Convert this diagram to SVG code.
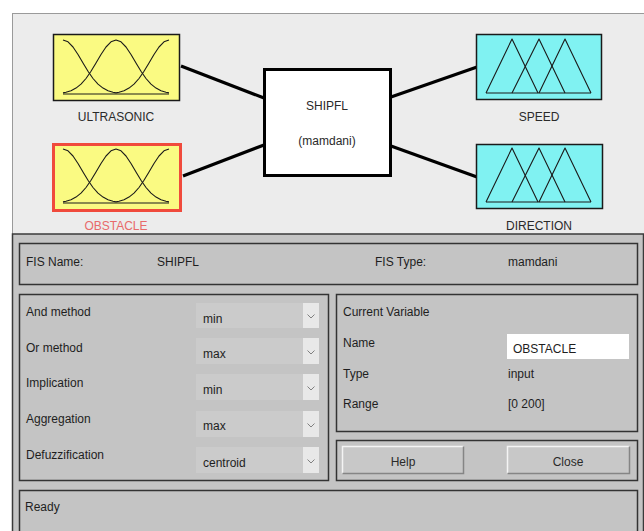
<svg xmlns="http://www.w3.org/2000/svg" width="644" height="531" viewBox="0 0 644 531">
<defs>
<style>
text{font-family:"Liberation Sans",Arial,sans-serif;font-size:12px;fill:#1e1e1e}
.lbl{fill:#2a2a2a;text-anchor:middle}
.mf{fill:none;stroke:#1a1a1a;stroke-width:1.1;stroke-linejoin:round}
.panel{fill:#c4c4c4;stroke:#333;stroke-width:1.5}
.dd{fill:#cbcbcb}
.chev{fill:#e8e8e8}
.chv{fill:none;stroke:#808080;stroke-width:1}
.conn{stroke:#000;stroke-width:3.2;fill:none}
</style>
<g id="gauss">
<polyline class="mf" points="0,-54 5,-52.2 10,-47 15,-39.5 20,-31 25,-22.7 30,-15.5 35,-9.9 40,-5.9 45,-3.3 50,-1.7 53,-1.1"/>
<polyline class="mf" points="0,-1.1 3,-1.7 8,-3.3 13,-5.9 18,-9.9 23,-15.5 28,-22.7 33,-31 38,-39.5 43,-47 48,-52.2 53,-54 58,-52.2 63,-47 68,-39.5 73,-31 78,-22.7 83,-15.5 88,-9.9 93,-5.9 98,-3.3 103,-1.7 106,-1.1"/>
<polyline class="mf" points="53,-1.1 56,-1.7 61,-3.3 66,-5.9 71,-9.9 76,-15.5 81,-22.7 86,-31 91,-39.5 96,-47 101,-52.2 106,-54"/>
<line class="mf" x1="0" y1="0" x2="106" y2="0"/>
</g>
<g id="tri">
<polyline class="mf" points="0,0 26,-54 52,0"/>
<polyline class="mf" points="26,0 53,-54 79,0"/>
<polyline class="mf" points="53,0 79,-54 105,0"/>
<line class="mf" x1="0" y1="0" x2="105" y2="0"/>
</g>
<g id="chevron"><polyline class="chv" points="-3.5,-1.5 0,2 3.5,-1.5"/></g>
</defs>

<rect x="0" y="0" width="644" height="531" fill="#ffffff"/>
<rect x="12.5" y="13.5" width="632" height="221" fill="#ececec" stroke="#9a9a9a" stroke-width="1"/>
<rect x="12.5" y="234" width="631" height="300" fill="#c4c4c4" stroke="#3a3a3a" stroke-width="1.5"/>

<g id="connectors">
<line class="conn" x1="181" y1="66" x2="264" y2="98"/>
<line class="conn" x1="183" y1="176" x2="264" y2="145"/>
<line class="conn" x1="391" y1="97" x2="477" y2="67"/>
<line class="conn" x1="391" y1="146" x2="477" y2="177"/>
</g>

<g id="node-ultrasonic">
<rect x="53.5" y="34.5" width="126" height="66" fill="#fafa82" stroke="#1a1a1a" stroke-width="1.5"/>
<use href="#gauss" transform="translate(63,94)"/>
<text class="lbl" x="116" y="121">ULTRASONIC</text>
</g>

<g id="node-obstacle">
<rect x="53.5" y="144.5" width="127" height="66" fill="#fafa82" stroke="#f04a3c" stroke-width="3"/>
<use href="#gauss" transform="translate(63,203)"/>
<text class="lbl" x="116" y="230" style="fill:#e86a6a">OBSTACLE</text>
</g>

<g id="node-shipfl">
<rect x="264.5" y="69.5" width="126" height="106" fill="#ffffff" stroke="#000" stroke-width="3"/>
<text class="lbl" x="327" y="110">SHIPFL</text>
<text class="lbl" x="327" y="145">(mamdani)</text>
</g>

<g id="node-speed">
<rect x="476.5" y="34.5" width="125" height="65" fill="#80f2f2" stroke="#1a1a1a" stroke-width="1.5"/>
<use href="#tri" transform="translate(486,93)"/>
<text class="lbl" x="539" y="121">SPEED</text>
</g>

<g id="node-direction">
<rect x="476.5" y="144.5" width="126" height="64" fill="#80f2f2" stroke="#1a1a1a" stroke-width="1.5"/>
<use href="#tri" transform="translate(486,202)"/>
<text class="lbl" x="539" y="230">DIRECTION</text>
</g>

<g id="fis-name-panel">
<rect class="panel" x="19.5" y="243.5" width="618" height="41"/>
<text x="26" y="266">FIS Name:</text>
<text x="157" y="266">SHIPFL</text>
<text x="375" y="266">FIS Type:</text>
<text x="508" y="266">mamdani</text>
</g>

<g id="methods-panel">
<rect class="panel" x="19.5" y="294.5" width="309" height="186"/>
<text x="26" y="316">And method</text>
<rect class="dd" x="196" y="303" width="123" height="25"/><rect class="chev" x="303" y="303" width="16" height="25"/>
<use href="#chevron" transform="translate(311,316)"/>
<text x="203" y="323">min</text>
<text x="26" y="352">Or method</text>
<rect class="dd" x="196" y="338" width="123" height="26"/><rect class="chev" x="303" y="338" width="16" height="26"/>
<use href="#chevron" transform="translate(311,352)"/>
<text x="203" y="358">max</text>
<text x="26" y="387">Implication</text>
<rect class="dd" x="196" y="374" width="123" height="26"/><rect class="chev" x="303" y="374" width="16" height="26"/>
<use href="#chevron" transform="translate(311,388)"/>
<text x="203" y="394">min</text>
<text x="26" y="423">Aggregation</text>
<rect class="dd" x="196" y="411" width="123" height="26"/><rect class="chev" x="303" y="411" width="16" height="26"/>
<use href="#chevron" transform="translate(311,425)"/>
<text x="203" y="430">max</text>
<text x="26" y="459">Defuzzification</text>
<rect class="dd" x="196" y="447" width="123" height="26"/><rect class="chev" x="303" y="447" width="16" height="26"/>
<use href="#chevron" transform="translate(311,461)"/>
<text x="203" y="467">centroid</text>
</g>

<g id="current-variable-panel">
<rect class="panel" x="336.5" y="294.5" width="301" height="137"/>
<text x="343" y="316">Current Variable</text>
<text x="343" y="347">Name</text>
<rect x="507" y="334" width="122" height="25" fill="#ffffff"/>
<text x="513" y="353">OBSTACLE</text>
<text x="343" y="378">Type</text>
<text x="508" y="378">input</text>
<text x="343" y="408">Range</text>
<text x="508" y="408">[0 200]</text>
</g>

<g id="buttons-panel">
<rect class="panel" x="336.5" y="440.5" width="301" height="40"/>
<g id="help-button">
<rect x="342" y="446" width="122" height="28" fill="#c8c8c8"/>
<polyline points="342.5,473.5 342.5,446.5 463.5,446.5" fill="none" stroke="#f4f4f4" stroke-width="1.5"/>
<polyline points="342.5,473.5 463.5,473.5 463.5,446.5" fill="none" stroke="#858585" stroke-width="1.5"/>
<text class="lbl" x="403" y="466">Help</text>
</g>
<g id="close-button">
<rect x="507" y="446" width="123" height="28" fill="#c8c8c8"/>
<polyline points="507.5,473.5 507.5,446.5 629.5,446.5" fill="none" stroke="#f4f4f4" stroke-width="1.5"/>
<polyline points="507.5,473.5 629.5,473.5 629.5,446.5" fill="none" stroke="#858585" stroke-width="1.5"/>
<text class="lbl" x="568" y="466">Close</text>
</g>
</g>

<g id="status-panel">
<rect class="panel" x="19.5" y="490.5" width="618" height="50"/>
<text x="25" y="511">Ready</text>
</g>
</svg>
